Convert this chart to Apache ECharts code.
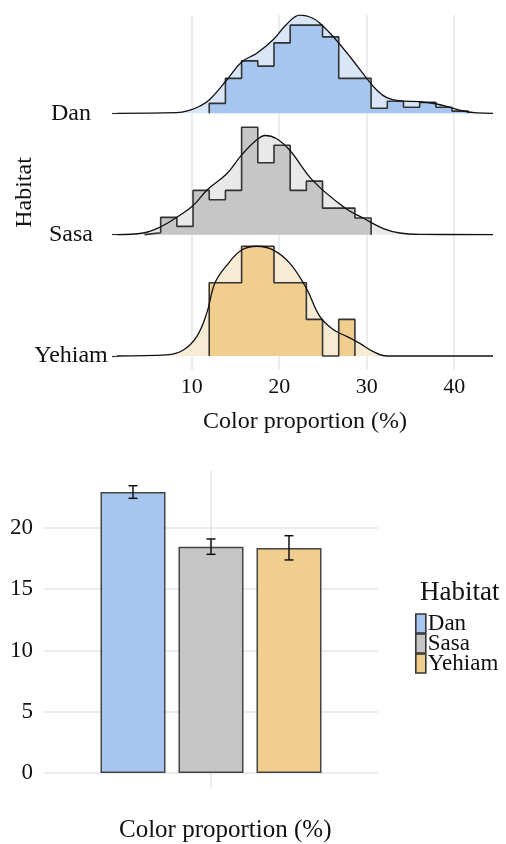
<!DOCTYPE html>
<html>
<head>
<meta charset="utf-8">
<script src="https://cdn.jsdelivr.net/npm/echarts@6/dist/echarts.min.js"></script>
<style>
  html, body { margin: 0; padding: 0; background: #fff; }
  #chart { width: 506px; height: 844px; }
</style>
</head>
<body>
<div id="chart"></div>
<script>
// ---- data ----
const habitats = ['Dan', 'Sasa', 'Yehiam']
const ridgeOrder = ['Yehiam', 'Sasa', 'Dan'] // bottom -> top
const xTicks = [10, 20, 30, 40]
const xRange = [1.46, 44.43]

// histogram bins (density), bins start at binStart + k * binWidth
const binStart = 4.6
const binWidth = 1.85
const danFirstBin = 4
const danHist = [0.0091, 0.032, 0.048, 0.0432, 0.0645, 0.0807, 0.0807, 0.070, 0.032, 0.032, 0.0046, 0.011, 0.0055, 0.010, 0.0055, 0.002]
const sasaFirstBin = 0
const sasaHist = [0.0018, 0.0158, 0.0076, 0.0405, 0.032, 0.0405, 0.0984, 0.0658, 0.0819, 0.0405, 0.049, 0.0243, 0.0243, 0.0152]
const yehiamFirstBin = 4
const yehiamHist = [0.067, 0.067, 0.1005, 0.1005, 0.067, 0.067, 0.0335, 0, 0.0335]

// density curves
const danDensX = [1.46, 8.29, 9.81, 10.95, 12.09, 14.0, 15.71, 17.43, 19.33, 20.85, 22.38, 23.9, 24.86, 26.18, 28.09, 30.0, 31.14, 32.29, 33.8, 36.1, 38.0, 39.5, 41.0, 42.6, 44.43]
const danDens = [0, 0.0006, 0.003, 0.0067, 0.0128, 0.0305, 0.047, 0.055, 0.0676, 0.0816, 0.0899, 0.0868, 0.0808, 0.0701, 0.0518, 0.032, 0.0213, 0.0143, 0.0113, 0.0107, 0.0085, 0.0055, 0.0021, 0.0003, 0]
const sasaDensX = [1.46, 4.45, 6.4, 8.3, 10.2, 11.7, 14.0, 15.71, 17.43, 18.38, 19.71, 21.23, 23.9, 27.52, 29.6, 31.9, 33.8, 36.1, 44.43]
const sasaDens = [0, 0.0015, 0.007, 0.016, 0.027, 0.0405, 0.0558, 0.073, 0.0868, 0.0908, 0.0878, 0.077, 0.049, 0.0244, 0.0152, 0.0055, 0.0015, 0.0003, 0]
const yehiamDensX = [1.46, 7.14, 9.04, 10.57, 11.71, 12.66, 14.0, 15.71, 17.43, 19.33, 21.2, 23.1, 24.66, 26.2, 27.7, 29.2, 30.75, 32.3, 44.43]
const yehiamDens = [0, 0.001, 0.0055, 0.0177, 0.039, 0.067, 0.083, 0.097, 0.1005, 0.097, 0.085, 0.062, 0.036, 0.024, 0.018, 0.0116, 0.004, 0, 0]

// bar chart: mean and error bar limits
const barMeans = [22.94, 18.47, 18.36]
const barLow = [22.42, 17.85, 17.39]
const barHigh = [23.45, 19.1, 19.37]
const barTicks = [0, 5, 10, 15, 20]

const histColors = { Dan: '#a6c6f0', Sasa: '#c6c6c6', Yehiam: '#f0ce8e' }
const densColors = { Dan: '#d9e6f8', Sasa: '#e9e9e9', Yehiam: '#f8ebd3' }

const FONT = 'Liberation Serif'
const SCALE = 9 // ridge height per density unit
const BAR_W = 65
const BAR_GAP = 13

const ridges = {
  Dan: { first: danFirstBin, hist: danHist, dx: danDensX, dy: danDens },
  Sasa: { first: sasaFirstBin, hist: sasaHist, dx: sasaDensX, dy: sasaDens },
  Yehiam: { first: yehiamFirstBin, hist: yehiamHist, dx: yehiamDensX, dy: yehiamDens }
}

function histPoints(first, heights, base) {
  const pts = [[binStart + first * binWidth, base]]
  heights.forEach((h, i) => {
    pts.push([binStart + (first + i) * binWidth, base + h * SCALE])
  })
  pts.push([binStart + (first + heights.length) * binWidth, base])
  return pts
}

function densPoints(xs, ys, base) {
  return xs.map((x, i) => [x, base + ys[i] * SCALE])
}

const series = []
ridgeOrder.forEach((name, base) => {
  const r = ridges[name]
  series.push({
    name: name + '-density-area',
    type: 'line',
    xAxisIndex: 0, yAxisIndex: 0,
    data: densPoints(r.dx, r.dy, base),
    smooth: 0.4,
    symbol: 'none',
    z: 1,
    lineStyle: { width: 0 },
    areaStyle: { color: densColors[name], opacity: 1, origin: base },
    silent: true
  })
  series.push({
    name: name + '-hist',
    type: 'line',
    xAxisIndex: 0, yAxisIndex: 0,
    data: histPoints(r.first, r.hist, base),
    step: 'end',
    symbol: 'none',
    z: 2,
    lineStyle: { color: '#333', width: 1.6 },
    areaStyle: { color: histColors[name], opacity: 1, origin: base },
    silent: true
  })
  series.push({
    name: name + '-density',
    type: 'line',
    xAxisIndex: 0, yAxisIndex: 0,
    data: densPoints(r.dx, r.dy, base),
    smooth: 0.4,
    symbol: 'none',
    z: 3,
    lineStyle: { color: '#111', width: 1.3 },
    silent: true
  })
})

habitats.forEach((name, i) => {
  const s = {
    name: name,
    type: 'bar',
    xAxisIndex: 1, yAxisIndex: 1,
    data: [barMeans[i]],
    barWidth: BAR_W,
    barGap: (BAR_GAP / BAR_W * 100) + '%',
    z: 2,
    itemStyle: { color: histColors[name], borderColor: '#444', borderWidth: 1.5 }
  }
  // the middle bar sits on the category centre, so the vertical grid line hangs off it
  if (i === 1) {
    s.markLine = {
      silent: true,
      symbol: 'none',
      z: 1,
      label: { show: false },
      lineStyle: { color: '#e6e6e6', width: 1.5, type: 'solid' },
      data: [{ xAxis: 0 }]
    }
  }
  series.push(s)
})

series.push({
  name: 'errors',
  type: 'custom',
  xAxisIndex: 1, yAxisIndex: 1,
  z: 5,
  data: habitats.map((n, i) => [0, barLow[i], barHigh[i], i]),
  encode: { x: 0, y: [1, 2] },
  renderItem(params, api) {
    const i = api.value(3)
    const off = (i - 1) * (BAR_W + BAR_GAP)
    const lo = api.coord([0, api.value(1)])
    const hi = api.coord([0, api.value(2)])
    const x = lo[0] + off
    const style = { stroke: '#111', lineWidth: 1.5 }
    return {
      type: 'group',
      children: [
        { type: 'line', shape: { x1: x, y1: lo[1], x2: x, y2: hi[1] }, style },
        { type: 'line', shape: { x1: x - 4.5, y1: lo[1], x2: x + 4.5, y2: lo[1] }, style },
        { type: 'line', shape: { x1: x - 4.5, y1: hi[1], x2: x + 4.5, y2: hi[1] }, style }
      ]
    }
  }
})

const chart = echarts.init(document.getElementById('chart'))
const option = {
  backgroundColor: '#fff',
  animation: false,
  textStyle: { fontFamily: FONT },
  title: [
    {
      text: 'Habitat', left: 415, top: 574,
      textStyle: { fontFamily: FONT, fontSize: 27, fontWeight: 'normal', color: '#111' }
    },
    {
      text: 'Color proportion (%)', left: 114, top: 813,
      textStyle: { fontFamily: FONT, fontSize: 25, fontWeight: 'normal', color: '#111' }
    }
  ],
  legend: {
    data: habitats,
    orient: 'vertical',
    left: 410, top: 607,
    icon: 'rect',
    itemWidth: 10, itemHeight: 19, itemGap: -3,
    itemStyle: { borderColor: '#333', borderWidth: 1.6 },
    textStyle: { fontFamily: FONT, fontSize: 23, color: '#111', lineHeight: 19, padding: [0, 0, 0, -3] }
  },
  grid: [
    { left: 117, right: 13, top: 15, bottom: 474, outerBoundsMode: 'none' },
    { left: 44, right: 128, top: 470.7, bottom: 56.6, outerBoundsMode: 'none' }
  ],
  xAxis: [
    {
      gridIndex: 0, type: 'value', min: xRange[0], max: xRange[1],
      name: 'Color proportion (%)', nameLocation: 'middle', nameGap: 40,
      nameTextStyle: { fontFamily: FONT, fontSize: 24, color: '#111' },
      axisLine: { show: false },
      axisTick: { show: false, customValues: xTicks },
      axisLabel: { customValues: xTicks, fontFamily: FONT, fontSize: 22, color: '#111', margin: 6 },
      splitLine: { show: true, lineStyle: { color: '#e6e6e6', width: 1.5 } }
    },
    {
      gridIndex: 1, type: 'category', data: [''],
      axisLine: { show: false }, axisTick: { show: false }, axisLabel: { show: false },
      splitLine: { show: false }
    }
  ],
  yAxis: [
    {
      gridIndex: 0, type: 'value', min: -0.1154, max: 2.81,
      name: 'Habitat', nameLocation: 'middle', nameRotate: 90, nameGap: 80,
      nameMoveOverlap: false,
      nameTextStyle: { fontFamily: FONT, fontSize: 24, color: '#111' },
      axisLine: { show: false },
      axisTick: { show: true, length: 5, customValues: [0, 1, 2], lineStyle: { color: '#333', width: 1.2 } },
      axisLabel: {
        customValues: [0, 1, 2], align: 'center', margin: 46,
        fontFamily: FONT, fontSize: 24, color: '#111',
        formatter: v => ridgeOrder[v]
      },
      splitLine: { show: false }
    },
    {
      gridIndex: 1, type: 'value', min: -1.175, max: 24.675,
      axisLine: { show: false },
      axisTick: { show: false, customValues: barTicks },
      axisLabel: { customValues: barTicks, fontFamily: FONT, fontSize: 23, color: '#111', margin: 11 },
      splitLine: { show: true, lineStyle: { color: '#e6e6e6', width: 1.5 } }
    }
  ],
  series: series
}
chart.setOption(option)
</script>
</body>
</html>
